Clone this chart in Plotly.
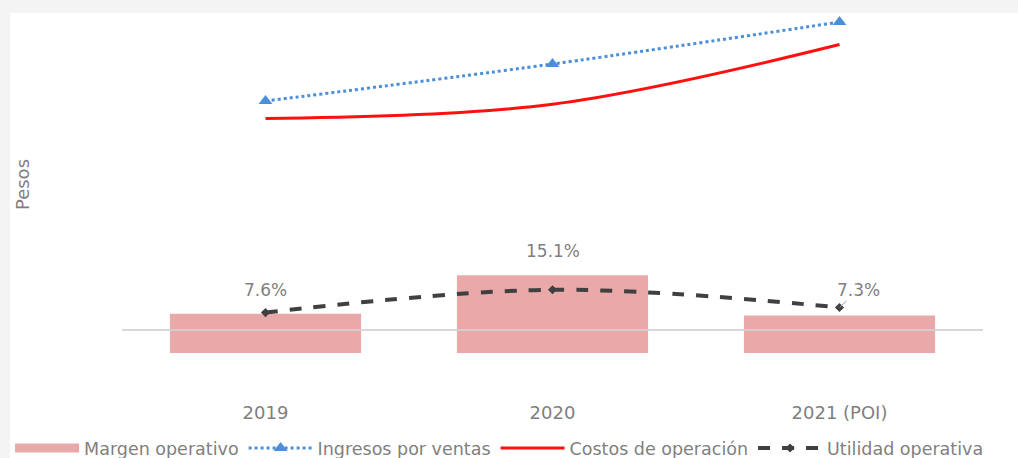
import plotly.graph_objects as go

anios = ["2019", "2020", "2021 (POI)"]
margen = [7.6, 15.1, 7.3]            # % margen operativo
ingresos = [229, 266, 308]           # ingresos por ventas
costos = [211.6, 225.8, 285.5]       # costos de operación
utilidad = [17.4, 40.2, 22.5]        # utilidad operativa
etiquetas = ["7.6%", "15.1%", "7.3%"]

GRIS = "#7f7f7f"
ROSA = "#eaa9a9"
FUENTE = "DejaVu Sans"

fig = go.Figure()
# barras en el eje primario, líneas en el eje secundario (encima)
fig.add_trace(go.Bar(x=anios, y=margen, name="Margen operativo", showlegend=False,
                     marker=dict(color=ROSA, line=dict(width=0))))
# entrada de leyenda con barra ancha
fig.add_trace(go.Scatter(x=[None], y=[None], name="Margen operativo", mode="lines",
                         line=dict(color=ROSA, width=9)))
fig.add_trace(go.Scatter(x=anios, y=ingresos, name="Ingresos por ventas", mode="lines+markers",
                         yaxis="y2",
                         line=dict(color="#4a8fd8", width=3, dash="dot", shape="spline"),
                         marker=dict(symbol="triangle-up", size=12, color="#4a8fd8")))
fig.add_trace(go.Scatter(x=anios, y=costos, name="Costos de operación", mode="lines",
                         yaxis="y2", line=dict(color="#ff1010", width=3, shape="spline")))
fig.add_trace(go.Scatter(x=anios, y=utilidad, name="Utilidad operativa", mode="lines+markers",
                         yaxis="y2",
                         line=dict(color="#404040", width=4, dash="dash", shape="spline"),
                         marker=dict(symbol="diamond", size=7, color="#404040")))

# etiquetas del margen (x por índice de categoría)
for i, (m, t) in enumerate(zip(margen, etiquetas)):
    if i < 2:
        fig.add_annotation(x=i, y=m, yref="y", text=t, showarrow=False,
                           yanchor="bottom", yshift=12,
                           font=dict(family=FUENTE, size=17, color=GRIS))
    else:
        fig.add_annotation(x=i, y=utilidad[i], yref="y2", text=t, showarrow=True,
                           arrowhead=0, arrowwidth=1, arrowcolor="#9a9a9a",
                           ax=19, ay=-18, font=dict(family=FUENTE, size=17, color=GRIS))

fig.add_annotation(text="Pesos", xref="paper", yref="paper", x=-0.1161, y=0.5497,
                   xanchor="center", yanchor="middle", textangle=-90, showarrow=False,
                   font=dict(family=FUENTE, size=18, color=GRIS))

# fondo blanco sobre el marco gris
fig.add_shape(type="rect", xref="paper", yref="paper", x0=-0.1301, x1=1.05, y0=-0.2, y1=1.0,
              fillcolor="white", line=dict(width=0), layer="below")
# línea de cero
fig.add_shape(type="line", xref="paper", yref="y2", x0=0, x1=1, y0=0, y1=0,
              line=dict(color="rgba(210,210,210,0.85)", width=2), layer="above")

fig.update_layout(
    width=1018, height=458,
    margin=dict(l=122, r=35, t=13, b=63, autoexpand=False),
    paper_bgcolor="#f4f4f4", plot_bgcolor="white",
    bargap=0.334,
    font=dict(family=FUENTE, color=GRIS),
    xaxis=dict(type="category", range=[-0.5, 2.5], showgrid=False, showline=False,
               zeroline=False, ticks="outside", ticklen=1, tickcolor="rgba(0,0,0,0)",
               tickfont=dict(size=18, color=GRIS)),
    yaxis=dict(range=[-8.16, 66.02], showgrid=False, zeroline=False, showticklabels=False),
    yaxis2=dict(range=[-65, 317], overlaying="y", side="right", showgrid=False,
                zeroline=False, showticklabels=False),
    legend=dict(orientation="h", x=-0.130, xanchor="left", y=-0.139, yanchor="middle",
                font=dict(size=17.5, color=GRIS), itemwidth=64, bgcolor="rgba(0,0,0,0)"),
)

# sin margen del body para que la figura ocupe la ventana
fig.write_html("out.html", config={"displayModeBar": False},
               post_script="document.body.style.margin='0px';")
